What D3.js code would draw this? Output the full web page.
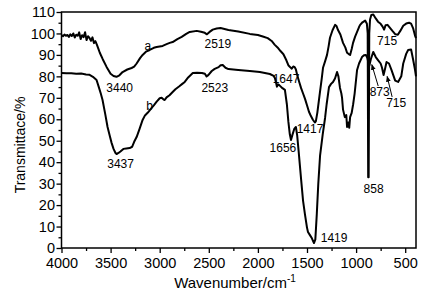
<!DOCTYPE html>
<html>
<head>
<meta charset="utf-8">
<script src="https://cdn.jsdelivr.net/npm/d3@7"></script>
<style>
  body { margin: 0; background: #fff; }
  svg { display: block; font-family: "Liberation Sans", Arial, sans-serif; }
</style>
</head>
<body>
<svg width="436" height="300"></svg>
<script>
// curve a (upper)
const waveA = [4000, 3985, 3970, 3955, 3940, 3925, 3910, 3895, 3880, 3865, 3850, 3835, 3820, 3805,
    3790, 3775, 3760, 3745, 3730, 3715, 3700, 3685, 3670, 3655, 3640, 3625, 3610, 3580, 3541, 3500,
    3470, 3440, 3410, 3378, 3330, 3286, 3260, 3235, 3200, 3174, 3140, 3102, 3060, 3031, 2970, 2930,
    2898, 2868, 2820, 2776, 2730, 2694, 2623, 2580, 2541, 2519, 2495, 2460, 2420, 2380, 2300, 2200,
    2082, 2000, 1950, 1900, 1860, 1830, 1800, 1770, 1740, 1710, 1690, 1670, 1655, 1640, 1625, 1613,
    1600, 1580, 1560, 1540, 1520, 1500, 1480, 1460, 1440, 1420, 1410, 1395, 1370, 1350, 1337, 1316,
    1296, 1280, 1266, 1240, 1214, 1200, 1184, 1160, 1133, 1110, 1092, 1075, 1061, 1045, 1031, 1010,
    990, 970, 959, 935, 908, 890, 882, 877, 872, 866, 858, 845, 825, 800, 777, 750, 730, 715, 700,
    680, 655, 630, 600, 575, 550, 520, 490, 460, 440, 420, 400, 390]
const transA = [99.2, 98.7, 99.5, 98.9, 99.3, 98.4, 99.6, 98.8, 100.0, 98.1, 99.4, 98.9, 100.5, 97.4,
    99.2, 98.3, 100.6, 96.9, 98.7, 97.9, 96.6, 98.2, 95.5, 96.4, 94.8, 92.9, 91, 88, 84.4, 81.2,
    80.2, 79.8, 80.5, 82, 83.2, 83.9, 84.5, 86, 88.5, 90, 91.5, 92.3, 93.3, 93.7, 94.2, 95,
    95.6, 96, 97.4, 98.4, 99.8, 100.7, 101.2, 100.8, 100.3, 99.6, 100.6, 101.8, 102.3, 102.5, 101.6, 100.9,
    99.8, 99.3, 98.6, 97.8, 96.5, 94.8, 93.5, 91.8, 90.3, 87.5, 85.2, 84.2, 83.6, 84.6, 84.3, 83.2,
    80.6, 77.5, 74.5, 72, 69.5, 66.5, 63.5, 61.5, 59.8, 58.5, 59, 63, 72, 79, 84, 87,
    90, 94, 98, 101.5, 104, 103.5, 101.6, 99.5, 95.6, 93.5, 91, 90.4, 90, 92.8, 95.6, 98.5,
    100.7, 103, 104, 105.2, 106, 104.5, 100, 33, 33, 100, 106.5, 108.6, 108.8, 107, 105.5, 104.5, 103.2, 101.8, 103.8,
    104, 102.6, 101.2, 99.6, 99.4, 101.2, 103.6, 104.6, 105, 104.6, 102.5, 99, 97.8]

// curve b (lower)
const waveB = [4000, 3950, 3900, 3850, 3800, 3750, 3714, 3680, 3660, 3643, 3620, 3600, 3582, 3555,
    3531, 3510, 3490, 3470, 3450, 3439, 3420, 3400, 3370, 3340, 3306, 3280, 3260, 3235, 3205, 3174,
    3150, 3123, 3100, 3082, 3060, 3031, 3000, 2980, 2960, 2949, 2930, 2900, 2868, 2840, 2800, 2770,
    2745, 2710, 2663, 2620, 2570, 2540, 2523, 2505, 2470, 2440, 2400, 2380, 2358, 2330, 2300, 2200,
    2082, 1980, 1878, 1840, 1827, 1815, 1806, 1795, 1780, 1750, 1725, 1705, 1690, 1675, 1663, 1650,
    1630, 1613, 1600, 1585, 1560, 1540, 1520, 1500, 1490, 1470, 1450, 1429, 1415, 1400, 1385, 1367,
    1340, 1316, 1300, 1276, 1255, 1235, 1215, 1194, 1180, 1164, 1150, 1143, 1133, 1115, 1100, 1092,
    1080, 1070, 1061, 1045, 1030, 1015, 990, 970, 940, 920, 900, 885, 873, 865, 850, 825, 800, 777,
    750, 736, 720, 705, 690, 665, 640, 602, 572, 540, 520, 490, 470, 440, 420, 400, 390]
const transB = [81.6, 81.4, 81.5, 81.2, 81.3, 80.9, 80.7, 79.8, 79, 78.3, 75, 72, 69, 62.5,
    56.4, 52.5, 49, 46.2, 44.3, 43.8, 44.3, 45, 46.2, 46.4, 46.6, 47.2, 49.5, 51.7, 55.5, 59.7,
    61.8, 63, 64.3, 65.3, 66.5, 68.2, 69.8, 70, 69.2, 69, 70.2, 71.2, 72.7, 74, 75.4, 76.5,
    77.4, 79.5, 81.6, 81.7, 81.6, 81.2, 80, 80.6, 82.5, 83.5, 84.3, 85.2, 85.3, 84, 83.4, 83,
    82.5, 82, 81.1, 80.2, 79.2, 77, 75.2, 76.3, 75.8, 74.5, 73.7, 67, 59, 53, 50.3, 52.5,
    55.5, 56.4, 52.5, 45, 32, 22, 15.4, 9.5, 7.5, 6, 4.5, 2.3, 4, 16, 30, 43,
    53, 60.6, 67, 75, 76.5, 77.4, 79, 82, 80, 74.6, 72, 70, 64.5, 61, 62, 56.4,
    58.5, 56, 61, 63, 67, 72, 83, 86, 89, 89.8, 90, 88.5, 86, 85, 88, 91.4, 89, 87.6,
    86, 84, 80.6, 83.5, 86.7, 86, 83, 78, 77.4, 80, 86, 90.5, 92.3, 92.5, 88, 83, 80]

const xTicks = [4000, 3500, 3000, 2500, 2000, 1500, 1000, 500]
const xMinor = [3750, 3250, 2750, 2250, 1750, 1250, 750]
const yTicks = [0, 10, 20, 30, 40, 50, 60, 70, 80, 90, 100, 110]
const yMinor = [5, 15, 25, 35, 45, 55, 65, 75, 85, 95, 105]

// peak labels: text, wavenumber, transmittance (baseline position)
const peakText = ['a', 'b', '3440', '2519', '1647', '1417', '715', '3437', '2523', '1656', '1419', '858', '873', '715']
const peakWave = [3122, 3102, 3408, 2408, 1714, 1469, 684, 3398, 2439, 1745, 1224, 822, 760, 592]
const peakTrans = [92.3, 64.3, 72.5, 93.2, 76.9, 53.6, 94.6, 37.3, 72.7, 44.8, 2.8, 25.6, 70.9, 65.7]

// arrows: from (wave, trans) to (wave, trans)
const arrowFrom = [[775, 75.5], [633, 70.4]]
const arrowTo = [[840, 85.5], [684, 80]]

const svg = d3.select('svg')
const mLeft = 61.5, mRight = 416, mTop = 12, mBottom = 248

const x = d3.scaleLinear().domain([4000, 390]).range([mLeft, mRight])
const y = d3.scaleLinear().domain([0, 110]).range([mBottom, mTop])

// frame
svg.append('rect')
    .attr('x', mLeft).attr('y', mTop)
    .attr('width', mRight - mLeft).attr('height', mBottom - mTop)
    .attr('fill', 'none').attr('stroke', '#000').attr('stroke-width', 1.5)

function styleAxis(g) {
    g.select('.domain').remove()
    g.selectAll('line').attr('stroke', '#000').attr('stroke-width', 1.3)
    g.selectAll('text').attr('fill', '#000').attr('font-size', 14.5)
        .attr('font-family', '"Liberation Sans", Arial, sans-serif')
}

svg.append('g').attr('transform', `translate(0,${mBottom})`)
    .call(d3.axisBottom(x).tickValues(xTicks).tickSize(5).tickPadding(5).tickFormat(d3.format('d')))
    .call(styleAxis)
svg.append('g').attr('transform', `translate(0,${mBottom})`)
    .call(d3.axisBottom(x).tickValues(xMinor).tickSize(3).tickFormat(''))
    .call(styleAxis)
svg.append('g').attr('transform', `translate(${mLeft},0)`)
    .call(d3.axisLeft(y).tickValues(yTicks).tickSize(5).tickPadding(1.5))
    .call(styleAxis)
svg.append('g').attr('transform', `translate(${mLeft},0)`)
    .call(d3.axisLeft(y).tickValues(yMinor).tickSize(3).tickFormat(''))
    .call(styleAxis)

// curves
const line = d3.line().x(d => x(d[0])).y(d => y(d[1]))
const curves = [d3.zip(waveA, transA), d3.zip(waveB, transB)]
svg.selectAll('path.curve').data(curves).enter().append('path')
    .attr('class', 'curve')
    .attr('d', line)
    .attr('fill', 'none')
    .attr('stroke', '#000')
    .attr('stroke-width', 2)
    .attr('stroke-linejoin', 'round')

// peak labels
svg.selectAll('text.peak').data(peakText).enter().append('text')
    .attr('class', 'peak')
    .attr('x', (d, i) => x(peakWave[i]))
    .attr('y', (d, i) => y(peakTrans[i]))
    .attr('text-anchor', 'middle')
    .attr('font-size', 12)
    .text(d => d)

// arrows
svg.append('defs').append('marker')
    .attr('id', 'head')
    .attr('viewBox', '0 0 10 10')
    .attr('refX', 9).attr('refY', 5)
    .attr('markerWidth', 6).attr('markerHeight', 6)
    .attr('orient', 'auto')
    .append('path').attr('d', 'M0,1L10,5L0,9Z').attr('fill', '#000')

svg.selectAll('line.arrow').data(arrowFrom).enter().append('line')
    .attr('class', 'arrow')
    .attr('x1', d => x(d[0])).attr('y1', d => y(d[1]))
    .attr('x2', (d, i) => x(arrowTo[i][0])).attr('y2', (d, i) => y(arrowTo[i][1]))
    .attr('stroke', '#000').attr('stroke-width', 1)
    .attr('marker-end', 'url(#head)')

// axis titles
const xTitle = svg.append('text')
    .attr('x', 235).attr('y', 288)
    .attr('text-anchor', 'middle')
    .attr('font-size', 15)
xTitle.append('tspan').text('Wavenumber/cm')
xTitle.append('tspan').attr('font-size', 10).attr('dy', -6).text('-1')

svg.append('text')
    .attr('transform', 'translate(25,145) rotate(-90)')
    .attr('text-anchor', 'middle')
    .attr('font-size', 14)
    .text('Transmittace/%')
</script>
</body>
</html>
